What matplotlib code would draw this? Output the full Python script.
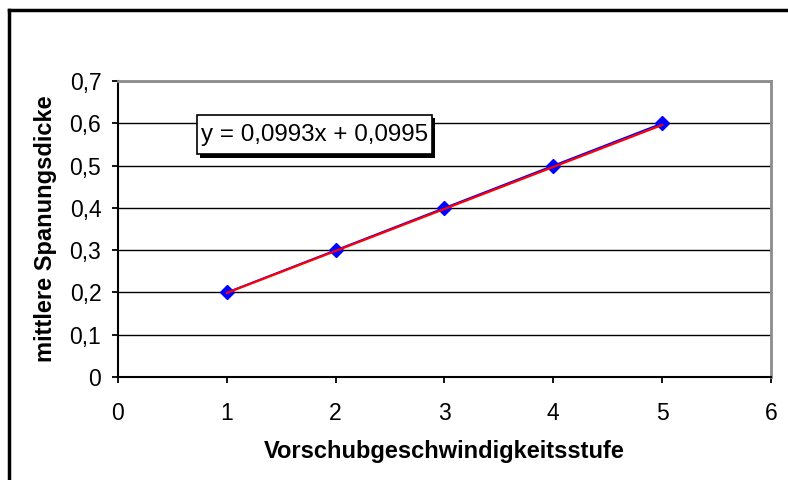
import matplotlib
matplotlib.use("Agg")
import matplotlib.pyplot as plt
import matplotlib.patheffects as pe
from matplotlib.lines import Line2D
from matplotlib.patches import Rectangle
from matplotlib.ticker import FuncFormatter, MultipleLocator

plt.rcParams['font.family'] = ['Liberation Sans', 'DejaVu Sans']

# Messwerte
stufe = [1, 2, 3, 4, 5]
spanungsdicke = [0.2, 0.3, 0.4, 0.5, 0.6]
# lineare Trendlinie (aus Excel)
steigung = 0.0993
achse = 0.0995
gleichung = "y = 0,0993x + 0,0995"

fig = plt.figure(figsize=(7.88, 4.8), dpi=100)
ax = fig.add_axes([0.1497, 0.2146, 0.8287, 0.6167])

ax.plot(stufe, spanungsdicke, color='blue', lw=1.2, marker='D', ms=7,
        mfc='blue', mec='blue', zorder=3)
trend = [steigung * x + achse for x in stufe]
ax.plot([stufe[0], stufe[-1]], [trend[0], trend[-1]], color='red', lw=1.6, zorder=4)

ax.set_xlim(0, 6)
ax.set_ylim(0, 0.7)
ax.xaxis.set_major_locator(MultipleLocator(1))
ax.yaxis.set_major_locator(MultipleLocator(0.1))
ax.yaxis.set_major_formatter(FuncFormatter(lambda v, p: "0" if abs(v) < 1e-9 else f"{v:.1f}".replace('.', ',')))
ax.xaxis.set_major_formatter(FuncFormatter(lambda v, p: f"{v:.0f}"))
ax.grid(axis='y', color='black', lw=1.0)
ax.set_axisbelow(True)

for s in ['top', 'right']:
    ax.spines[s].set_color('#8c8c8c')
    ax.spines[s].set_linewidth(2)
for s in ['left', 'bottom']:
    ax.spines[s].set_color('black')
    ax.spines[s].set_linewidth(1.5)

ax.tick_params(axis='both', direction='out', length=4, width=1.3, labelsize=16.5, colors='black')
ax.tick_params(axis='x', pad=14)
ax.tick_params(axis='y', pad=8)

ax.set_xlabel("Vorschubgeschwindigkeitsstufe", fontsize=17, fontweight='bold', labelpad=11)
ax.set_ylabel("mittlere Spanungsdicke", fontsize=17, fontweight='bold', labelpad=9)

# Kasten der Trendlinien-Gleichung mit Schatten
box = Rectangle((0.726, 0.527), 2.159, 0.0925, fc='white', ec='black', lw=1.2, zorder=5)
box.set_path_effects([
    pe.SimplePatchShadow(offset=(2.5, -2.5), shadow_rgbFace='black', alpha=1.0),
    pe.Normal()])
ax.add_patch(box)
ax.text(0.763, 0.573, gleichung, fontsize=17.4, va='center', ha='left', zorder=6)

# äußerer Rahmen (links und oben)
fig.add_artist(Line2D([9 / 788, 9 / 788], [0, 1 - 10 / 480], color='black', lw=2.5))
fig.add_artist(Line2D([9 / 788, 1], [1 - 10 / 480, 1 - 10 / 480], color='black', lw=2.5))

fig.savefig("out.png", dpi=100)
